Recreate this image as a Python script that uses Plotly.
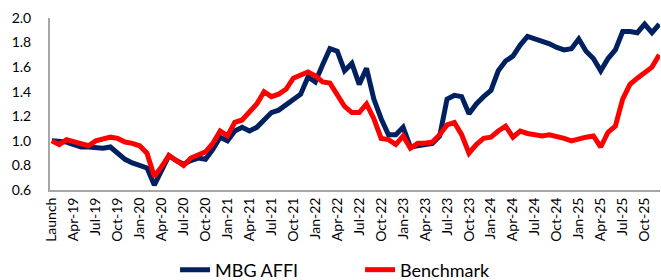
import plotly.graph_objects as go

months = ["Jan", "Feb", "Mar", "Apr", "May", "Jun", "Jul", "Aug", "Sep", "Oct", "Nov", "Dec"]
categories = []
for yr in range(19, 26):
    for m in months:
        categories.append(f"{m}-{yr}")
categories[0] = "Launch"

mbg_affi = [1.00, 1.00, 0.99, 0.97, 0.95, 0.95, 0.94, 0.94, 0.95, 0.90,
            0.85, 0.82, 0.80, 0.78, 0.64, 0.76, 0.88, 0.84, 0.81, 0.84,
            0.86, 0.85, 0.93, 1.03, 1.00, 1.08, 1.11, 1.08, 1.11, 1.17,
            1.23, 1.25, 1.29, 1.34, 1.38, 1.52, 1.48, 1.62, 1.75, 1.73,
            1.57, 1.63, 1.46, 1.59, 1.34, 1.18, 1.05, 1.05, 1.11, 0.95,
            0.96, 0.96, 0.98, 1.04, 1.34, 1.37, 1.36, 1.22, 1.30, 1.36,
            1.41, 1.57, 1.65, 1.69, 1.78, 1.85, 1.83, 1.82, 1.79, 1.76,
            1.74, 1.75, 1.83, 1.73, 1.67, 1.57, 1.67, 1.74, 1.89, 1.89,
            1.88, 1.95, 1.88, 1.95]

benchmark = [1.00, 0.97, 1.01, 0.99, 0.97, 0.96, 1.00, 1.02, 1.03, 1.02,
             0.99, 0.98, 0.96, 0.90, 0.71, 0.79, 0.88, 0.84, 0.80, 0.86,
             0.89, 0.91, 0.98, 1.08, 1.04, 1.15, 1.17, 1.23, 1.30, 1.40,
             1.36, 1.38, 1.42, 1.51, 1.54, 1.56, 1.53, 1.48, 1.47, 1.38,
             1.28, 1.23, 1.23, 1.30, 1.18, 1.02, 1.01, 0.97, 1.04, 0.94,
             0.98, 0.98, 0.99, 1.05, 1.13, 1.15, 1.05, 0.90, 0.97, 1.02,
             1.03, 1.08, 1.12, 1.03, 1.08, 1.06, 1.05, 1.04, 1.05, 1.04,
             1.02, 1.00, 1.02, 1.03, 1.04, 0.95, 1.07, 1.12, 1.34, 1.46,
             1.51, 1.55, 1.60, 1.70]

tick_labels = categories[::3]
y_ticks = [0.6, 0.8, 1.0, 1.2, 1.4, 1.6, 1.8, 2.0]

FONT = "Lato"

fig = go.Figure()
fig.add_trace(go.Scatter(x=categories, y=mbg_affi, mode="lines", name="MBG AFFI",
                         line=dict(color="#002060", width=5)))
fig.add_trace(go.Scatter(x=categories, y=benchmark, mode="lines", name="Benchmark",
                         line=dict(color="#FF0000", width=5)))

fig.update_layout(
    width=661, height=280,
    margin=dict(l=50, r=1, t=18, b=90, autoexpand=False),
    paper_bgcolor="white", plot_bgcolor="white",
    font=dict(family=FONT, color="#000000"),
    showlegend=True,
    legend=dict(orientation="h", x=0.205, xanchor="left", y=-0.465, yanchor="middle",
                font=dict(size=18, family=FONT), entrywidth=140, entrywidthmode="pixels",
                bgcolor="rgba(0,0,0,0)"),
    xaxis=dict(type="category", categoryorder="array", categoryarray=categories,
               range=[-0.25, 83.1], tickmode="array", tickvals=tick_labels,
               ticktext=tick_labels, tickangle=-90, tickfont=dict(size=14, family=FONT),
               showgrid=False, showline=True, linecolor="#A6A6A6", linewidth=2,
               ticks="", zeroline=False, automargin=False),
    yaxis=dict(range=[0.6, 2.0], tickmode="array", tickvals=y_ticks,
               ticktext=[f"{v:.1f}" for v in y_ticks], tickfont=dict(size=14, family=FONT),
               showgrid=False, showline=True, linecolor="#A6A6A6", linewidth=2,
               ticks="", zeroline=False, automargin=False, ticklabelstandoff=14),
)

fig.write_html("out.html", config={"displayModeBar": False},
               post_script="document.body.style.margin='0px';")
